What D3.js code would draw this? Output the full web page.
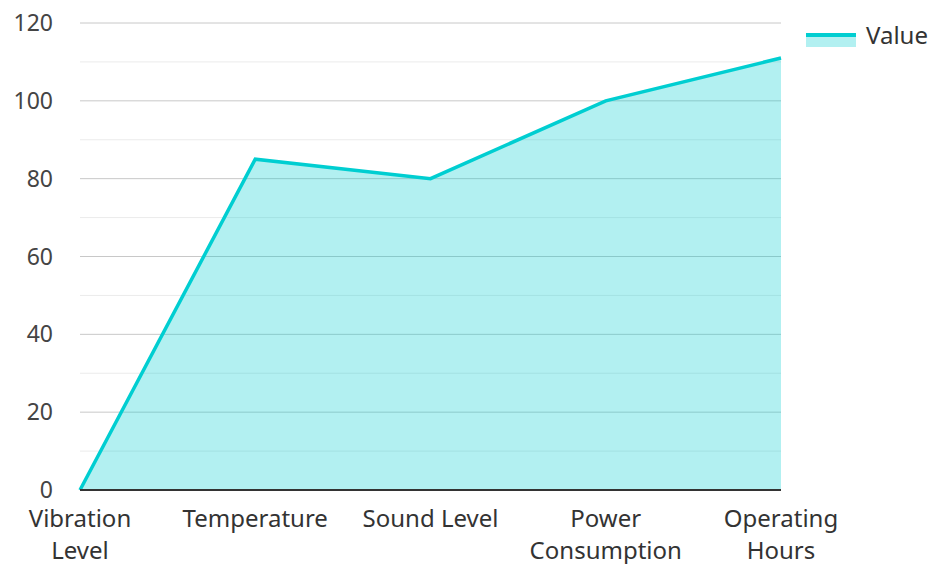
<!DOCTYPE html>
<html><head><meta charset="utf-8">
<script src="https://cdn.jsdelivr.net/npm/d3@7"></script>
<style>body{margin:0;background:#fff;}svg{display:block;font-family:"Noto Sans","Open Sans",sans-serif;}</style>
</head><body>
<svg id="c" width="931" height="564"></svg>
<script>
const categories = [["Vibration","Level"],["Temperature"],["Sound Level"],["Power","Consumption"],["Operating","Hours"]];
const values = [0, 85, 80, 100, 111];
const majorTicks = [0, 20, 40, 60, 80, 100, 120];
const minorTicks = [10, 30, 50, 70, 90, 110];
const seriesName = "Value";

const svg = d3.select("#c");
const pL = 80, pR = 781, pT = 23, pB = 490;
const x = d3.scalePoint().domain(d3.range(categories.length)).range([pL, pR]).padding(0);
const y = d3.scaleLinear().domain([0, 120]).range([pB, pT]);

svg.append("g").selectAll("line").data(minorTicks).join("line")
  .attr("x1", pL).attr("x2", pR).attr("y1", d => y(d)).attr("y2", d => y(d))
  .attr("stroke", "#ebebeb").attr("stroke-width", 1);
svg.append("g").selectAll("line").data(majorTicks.filter(d => d > 0)).join("line")
  .attr("x1", pL).attr("x2", pR).attr("y1", d => y(d)).attr("y2", d => y(d))
  .attr("stroke", "#c8c8c8").attr("stroke-width", 1);

const fill = "rgba(0,206,209,0.3)", stroke = "#00ced1";
svg.append("path").datum(values)
  .attr("d", d3.area().x((d, i) => x(i)).y0(y(0)).y1(d => y(d)))
  .attr("fill", fill);
svg.append("path").datum(values)
  .attr("d", d3.line().x((d, i) => x(i)).y(d => y(d)))
  .attr("fill", "none").attr("stroke", stroke).attr("stroke-width", 3.5);

svg.append("line").attr("x1", pL).attr("x2", pR).attr("y1", y(0)).attr("y2", y(0))
  .attr("stroke", "#333").attr("stroke-width", 2);

svg.append("g").selectAll("text").data(majorTicks).join("text")
  .attr("x", 53).attr("y", d => y(d) + 8).attr("text-anchor", "end")
  .attr("font-size", 23).attr("fill", "#444").text(d => d);

const xl = svg.append("g").selectAll("text").data(categories).join("text")
  .attr("text-anchor", "middle").attr("font-size", 24).attr("fill", "#333")
  .attr("x", (d, i) => x(i)).attr("y", 527);
xl.selectAll("tspan").data(d => d).join("tspan")
  .attr("x", function(){ return this.parentNode.getAttribute("x"); })
  .attr("dy", (d, i) => i === 0 ? 0 : 32).text(d => d);

const lg = svg.append("g");
lg.append("rect").attr("x", 806).attr("y", 35).attr("width", 50).attr("height", 12).attr("fill", fill);
lg.append("line").attr("x1", 806).attr("x2", 856).attr("y1", 35).attr("y2", 35).attr("stroke", stroke).attr("stroke-width", 4);
lg.append("text").attr("x", 866).attr("y", 44).attr("font-size", 24).attr("fill", "#333").text(seriesName);
</script>
</body></html>
